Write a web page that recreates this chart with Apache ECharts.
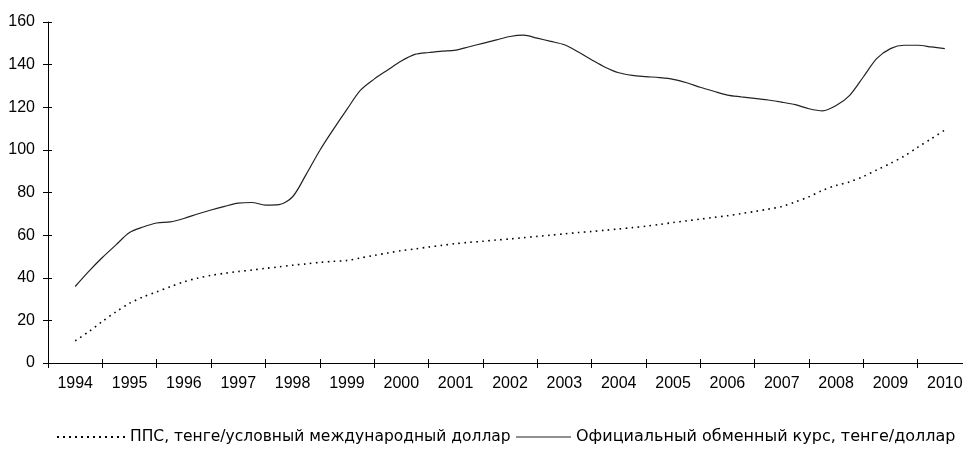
<!DOCTYPE html>
<html>
<head>
<meta charset="utf-8">
<script src="https://cdn.jsdelivr.net/npm/echarts@6/dist/echarts.min.js"></script>
<style>html,body{margin:0;padding:0;background:#fff;overflow:hidden;width:963px;height:457px}#c{width:972px;height:457px}</style>
</head>
<body>
<div id="c"></div>
<script>
// Category labels (years)
var years = ['1994','1995','1996','1997','1998','1999','2000','2001','2002','2003','2004','2005','2006','2007','2008','2009','2010'];
// Quarterly readings from 1994 to 2010 (step 0.25 year, starting at the 1994 mark)
var stepYears = 0.25;
var ppp = [10.4,14.7,19.5,24,28,31,33.4,35.8,38.1,39.8,41.1,42.1,42.9,43.6,44.4,45.1,45.9,46.5,47.2,47.7,48.1,49.3,50.5,51.6,52.7,53.5,54.4,55.2,56,56.6,57.1,57.7,58.2,58.8,59.4,60,60.6,61.2,61.7,62.3,62.9,63.5,64.2,65,65.9,66.7,67.5,68.3,69.1,70.1,71.1,72.2,73.4,75.6,78,81,83.3,85,87.5,90.6,93.7,97,101.2,105.2,109.3];
var official = [35.9,43,49.5,55.4,61.2,63.8,65.7,66.2,67.8,69.9,71.8,73.5,75,75.3,74.1,74.3,78,88.5,99.7,109.6,119,128,133.2,137.5,141.7,144.8,145.7,146.3,146.8,148.4,150,151.6,153.2,153.8,152.4,150.9,149.3,146,142.3,138.8,136.2,135,134.4,133.9,133.1,131.5,129.4,127.5,125.7,124.9,124.2,123.4,122.4,121.2,119.3,118.3,120.8,125.6,134.2,142.9,147.5,149.1,149.1,148.3,147.5];
var seriesNames = ['ППС, тенге/условный международный доллар','Официальный обменный курс, тенге/доллар'];
var yTicks = {min:0, max:160, interval:20};

function pairs(arr){ return arr.map(function(v,i){ return [i*stepYears, v]; }); }

// legend icon paths (style only)
var dotPath = 'path://';
for (var k = 0; k < 12; k++) { var x0 = k*6; dotPath += 'M'+x0+',0L'+(x0+2)+',0L'+(x0+2)+',2L'+x0+',2Z'; }
var solidPath = 'path://M0,0L55,0L55,1.2L0,1.2Z';

var font = 'Liberation Sans, Arial, sans-serif';
var legFont = 'DejaVu Sans, Liberation Sans, sans-serif';
var fs = 16;
var chart = echarts.init(document.getElementById('c'), null, {renderer:'canvas'});
chart.setOption({
  animation:false,
  backgroundColor:'#fff',
  grid:{left:48, right:0, top:22, bottom:94, containLabel:false},
  legend:[
    {id:'l1', data:[{name:seriesNames[0], icon:dotPath}], left:57, top:429, padding:0, itemWidth:68, itemHeight:2, itemGap:5,
     textStyle:{fontFamily:legFont, fontSize:15.5, color:'#000'}},
    {id:'l2', data:[{name:seriesNames[1], icon:solidPath}], left:516, top:429, padding:0, itemWidth:55, itemHeight:1.2, itemGap:5,
     textStyle:{fontFamily:legFont, fontSize:16, color:'#000'}}
  ],
  xAxis:[
    {type:'category', data:years, boundaryGap:true, position:'bottom',
     axisLine:{show:true, onZero:false, lineStyle:{color:'#000', width:1}},
     axisTick:{show:true, length:5, lineStyle:{color:'#000'}},
     axisLabel:{margin:13, fontFamily:font, fontSize:fs, color:'#000'},
     splitLine:{show:false}},
    {type:'value', min:-0.5, max:years.length-0.5, show:false, splitLine:{show:false}},
    {type:'category', data:years, boundaryGap:true, position:'bottom',
     axisLine:{show:false, onZero:false}, axisTick:{show:true, inside:true, length:4, lineStyle:{color:'#000'}},
     axisLabel:{show:false}, splitLine:{show:false}}
  ],
  yAxis:[
    {type:'value', min:yTicks.min, max:yTicks.max, interval:yTicks.interval, position:'left',
     axisLine:{show:true, onZero:false, lineStyle:{color:'#000', width:1}},
     axisTick:{show:true, length:5, lineStyle:{color:'#000'}},
     axisLabel:{margin:13, fontFamily:font, fontSize:fs, color:'#000'},
     splitLine:{show:false}},
    {type:'value', min:yTicks.min, max:yTicks.max, interval:yTicks.interval, position:'left',
     axisLine:{show:false, onZero:false}, axisTick:{show:true, inside:true, length:4, lineStyle:{color:'#000'}},
     axisLabel:{show:false}, splitLine:{show:false}}
  ],
  series:[
    {name:seriesNames[0], type:'line', xAxisIndex:1, yAxisIndex:0, data:pairs(ppp),
     showSymbol:false, symbol:'none', smooth:0.3,
     lineStyle:{color:'#000', width:1.6, type:[1.6,4.4]}, itemStyle:{color:'#000'}},
    {name:seriesNames[1], type:'line', xAxisIndex:1, yAxisIndex:0, data:pairs(official),
     showSymbol:false, symbol:'none', smooth:0.3,
     lineStyle:{color:'#222', width:1.2}, itemStyle:{color:'#222'}}
  ]
});
</script>
</body>
</html>
